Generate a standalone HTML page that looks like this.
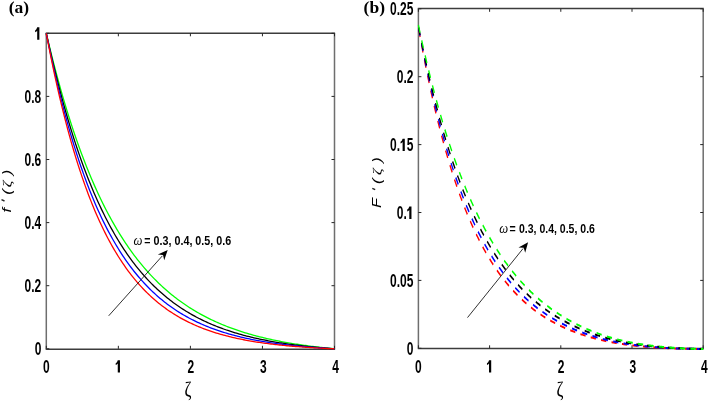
<!DOCTYPE html><html><head><meta charset="utf-8"><style>html,body{margin:0;padding:0;background:#fff;width:708px;height:402px;overflow:hidden}svg{display:block}</style></head><body>
<svg width="708" height="402" viewBox="0 0 708 402">
<rect width="708" height="402" fill="#fff"/>
<g style="opacity:0.999">
<path d="M45.699999999999996 33.3H335.1M45.699999999999996 349.2H335.1" stroke="#3c3c3c" stroke-width="1.45" fill="none"/>
<path d="M46.3 33.3V349.2M334.5 33.3V349.2" stroke="#6e6e6e" stroke-width="1.5" fill="none"/>
<path d="M46.30 348.8v-3M46.30 33.3v3M118.35 348.8v-3M118.35 33.3v3M190.40 348.8v-3M190.40 33.3v3M262.45 348.8v-3M262.45 33.3v3M334.50 348.8v-3M334.50 33.3v3M46.3 348.80h3M334.5 348.80h-3M46.3 285.70h3M334.5 285.70h-3M46.3 222.60h3M334.5 222.60h-3M46.3 159.50h3M334.5 159.50h-3M46.3 96.40h3M334.5 96.40h-3M46.3 33.30h3M334.5 33.30h-3" stroke="#262626" stroke-width="1" fill="none"/>
<text transform="translate(42.96,372.60) scale(0.686,1)" font-size="17.5" font-family="Liberation Sans" font-weight="bold" fill="#000">0</text>
<path d="M117.76 360.15H119.96V372.60H117.76V363.60Q116.81 364.60 115.71 365.10V363.20Q117.21 362.40 117.76 360.15Z" fill="#000"/>
<text transform="translate(187.46,372.60) scale(0.686,1)" font-size="17.5" font-family="Liberation Sans" font-weight="bold" fill="#000">2</text>
<text transform="translate(260.01,372.60) scale(0.686,1)" font-size="17.5" font-family="Liberation Sans" font-weight="bold" fill="#000">3</text>
<text transform="translate(332.36,372.60) scale(0.686,1)" font-size="17.5" font-family="Liberation Sans" font-weight="bold" fill="#000">4</text>
<text transform="translate(34.63,355.30) scale(0.686,1)" font-size="17.5" font-family="Liberation Sans" font-weight="bold" fill="#000">0</text>
<text transform="translate(24.61,292.20) scale(0.686,1)" font-size="17.5" font-family="Liberation Sans" font-weight="bold" fill="#000">0.2</text>
<text transform="translate(24.61,229.10) scale(0.686,1)" font-size="17.5" font-family="Liberation Sans" font-weight="bold" fill="#000">0.4</text>
<text transform="translate(24.61,166.00) scale(0.686,1)" font-size="17.5" font-family="Liberation Sans" font-weight="bold" fill="#000">0.6</text>
<text transform="translate(24.61,102.90) scale(0.686,1)" font-size="17.5" font-family="Liberation Sans" font-weight="bold" fill="#000">0.8</text>
<path d="M37.18 27.35H39.38V39.80H37.18V30.80Q36.23 31.80 35.13 32.30V30.40Q36.63 29.60 37.18 27.35Z" fill="#000"/>
<path d="M417.79999999999995 8.45H703.8000000000001M417.79999999999995 348.45H703.8000000000001" stroke="#3c3c3c" stroke-width="1.45" fill="none"/>
<path d="M418.4 8.45V348.45M703.2 8.45V348.45" stroke="#6e6e6e" stroke-width="1.5" fill="none"/>
<path d="M418.40 348.3v-3M418.40 8.8v3M489.60 348.3v-3M489.60 8.8v3M560.80 348.3v-3M560.80 8.8v3M632.00 348.3v-3M632.00 8.8v3M703.20 348.3v-3M703.20 8.8v3M418.4 348.30h3M703.2 348.30h-3M418.4 280.40h3M703.2 280.40h-3M418.4 212.50h3M703.2 212.50h-3M418.4 144.60h3M703.2 144.60h-3M418.4 76.70h3M703.2 76.70h-3M418.4 8.80h3M703.2 8.80h-3" stroke="#262626" stroke-width="1" fill="none"/>
<text transform="translate(415.06,372.60) scale(0.686,1)" font-size="17.5" font-family="Liberation Sans" font-weight="bold" fill="#000">0</text>
<path d="M489.01 360.15H491.21V372.60H489.01V363.60Q488.06 364.60 486.96 365.10V363.20Q488.46 362.40 489.01 360.15Z" fill="#000"/>
<text transform="translate(557.86,372.60) scale(0.686,1)" font-size="17.5" font-family="Liberation Sans" font-weight="bold" fill="#000">2</text>
<text transform="translate(629.56,372.60) scale(0.686,1)" font-size="17.5" font-family="Liberation Sans" font-weight="bold" fill="#000">3</text>
<text transform="translate(701.06,372.60) scale(0.686,1)" font-size="17.5" font-family="Liberation Sans" font-weight="bold" fill="#000">4</text>
<text transform="translate(406.73,354.80) scale(0.686,1)" font-size="17.5" font-family="Liberation Sans" font-weight="bold" fill="#000">0</text>
<text transform="translate(390.04,286.90) scale(0.686,1)" font-size="17.5" font-family="Liberation Sans" font-weight="bold" fill="#000">0.05</text>
<text transform="translate(396.71,219.00) scale(0.686,1)" font-size="17.5" font-family="Liberation Sans" font-weight="bold" fill="#000">0.</text><path d="M409.28 206.55H411.48V219.00H409.28V210.00Q408.33 211.00 407.23 211.50V209.60Q408.73 208.80 409.28 206.55Z" fill="#000"/>
<text transform="translate(390.04,151.10) scale(0.686,1)" font-size="17.5" font-family="Liberation Sans" font-weight="bold" fill="#000">0.</text><path d="M402.60 138.65H404.80V151.10H402.60V142.10Q401.65 143.10 400.55 143.60V141.70Q402.05 140.90 402.60 138.65Z" fill="#000"/><text transform="translate(406.73,151.10) scale(0.686,1)" font-size="17.5" font-family="Liberation Sans" font-weight="bold" fill="#000">5</text>
<text transform="translate(396.71,83.20) scale(0.686,1)" font-size="17.5" font-family="Liberation Sans" font-weight="bold" fill="#000">0.2</text>
<text transform="translate(390.04,15.30) scale(0.686,1)" font-size="17.5" font-family="Liberation Sans" font-weight="bold" fill="#000">0.25</text>
<polyline points="46.30,33.30 47.74,39.40 49.18,45.39 50.62,51.26 52.06,57.03 53.50,62.68 54.95,68.23 56.39,73.67 57.83,79.01 59.27,84.25 60.71,89.38 62.15,94.43 63.59,99.37 65.03,104.23 66.47,108.99 67.91,113.66 69.36,118.24 70.80,122.74 72.24,127.15 73.68,131.47 75.12,135.72 76.56,139.88 78.00,143.97 79.44,147.98 80.88,151.91 82.32,155.77 83.77,159.56 85.21,163.27 86.65,166.91 88.09,170.49 89.53,174.00 90.97,177.44 92.41,180.81 93.85,184.12 95.29,187.37 96.73,190.56 98.18,193.69 99.62,196.76 101.06,199.77 102.50,202.72 103.94,205.62 105.38,208.46 106.82,211.25 108.26,213.99 109.70,216.67 111.14,219.30 112.59,221.89 114.03,224.42 115.47,226.91 116.91,229.35 118.35,231.74 119.79,234.09 121.23,236.40 122.67,238.66 124.11,240.87 125.56,243.05 127.00,245.18 128.44,247.28 129.88,249.33 131.32,251.35 132.76,253.33 134.20,255.27 135.64,257.17 137.08,259.04 138.52,260.87 139.97,262.67 141.41,264.43 142.85,266.16 144.29,267.86 145.73,269.52 147.17,271.16 148.61,272.76 150.05,274.33 151.49,275.87 152.93,277.39 154.38,278.87 155.82,280.33 157.26,281.76 158.70,283.16 160.14,284.54 161.58,285.88 163.02,287.21 164.46,288.51 165.90,289.78 167.34,291.03 168.78,292.26 170.23,293.46 171.67,294.64 173.11,295.80 174.55,296.94 175.99,298.05 177.43,299.15 178.87,300.22 180.31,301.27 181.75,302.31 183.19,303.32 184.64,304.31 186.08,305.29 187.52,306.25 188.96,307.19 190.40,308.11 191.84,309.01 193.28,309.90 194.72,310.77 196.16,311.62 197.61,312.46 199.05,313.28 200.49,314.08 201.93,314.88 203.37,315.65 204.81,316.41 206.25,317.16 207.69,317.89 209.13,318.61 210.57,319.31 212.01,320.01 213.46,320.68 214.90,321.35 216.34,322.00 217.78,322.64 219.22,323.27 220.66,323.89 222.10,324.49 223.54,325.09 224.98,325.67 226.43,326.24 227.87,326.80 229.31,327.35 230.75,327.89 232.19,328.42 233.63,328.94 235.07,329.45 236.51,329.95 237.95,330.44 239.39,330.92 240.83,331.39 242.28,331.86 243.72,332.31 245.16,332.76 246.60,333.19 248.04,333.62 249.48,334.04 250.92,334.46 252.36,334.86 253.80,335.26 255.25,335.65 256.69,336.03 258.13,336.41 259.57,336.78 261.01,337.14 262.45,337.49 263.89,337.84 265.33,338.18 266.77,338.52 268.21,338.84 269.65,339.17 271.10,339.48 272.54,339.79 273.98,340.10 275.42,340.40 276.86,340.69 278.30,340.98 279.74,341.26 281.18,341.53 282.62,341.80 284.06,342.07 285.51,342.33 286.95,342.59 288.39,342.84 289.83,343.09 291.27,343.33 292.71,343.57 294.15,343.80 295.59,344.03 297.03,344.25 298.47,344.47 299.92,344.69 301.36,344.90 302.80,345.11 304.24,345.31 305.68,345.51 307.12,345.71 308.56,345.90 310.00,346.09 311.44,346.27 312.88,346.45 314.33,346.63 315.77,346.81 317.21,346.98 318.65,347.15 320.09,347.31 321.53,347.47 322.97,347.63 324.41,347.79 325.85,347.94 327.30,348.09 328.74,348.24 330.18,348.38 331.62,348.52 333.06,348.66 334.50,348.80" fill="none" stroke="#00ff00" stroke-width="1.3" stroke-linejoin="round"/>
<polyline points="46.30,33.30 47.74,39.90 49.18,46.36 50.62,52.69 52.06,58.89 53.50,64.96 54.95,70.90 56.39,76.73 57.83,82.43 59.27,88.02 60.71,93.49 62.15,98.85 63.59,104.09 65.03,109.24 66.47,114.27 67.91,119.20 69.36,124.03 70.80,128.76 72.24,133.39 73.68,137.93 75.12,142.37 76.56,146.73 78.00,150.99 79.44,155.16 80.88,159.25 82.32,163.26 83.77,167.18 85.21,171.02 86.65,174.78 88.09,178.47 89.53,182.08 90.97,185.61 92.41,189.08 93.85,192.47 95.29,195.79 96.73,199.04 98.18,202.23 99.62,205.35 101.06,208.40 102.50,211.40 103.94,214.33 105.38,217.20 106.82,220.01 108.26,222.76 109.70,225.46 111.14,228.10 112.59,230.69 114.03,233.23 115.47,235.71 116.91,238.14 118.35,240.52 119.79,242.85 121.23,245.14 122.67,247.37 124.11,249.56 125.56,251.71 127.00,253.81 128.44,255.87 129.88,257.88 131.32,259.86 132.76,261.79 134.20,263.69 135.64,265.54 137.08,267.36 138.52,269.14 139.97,270.88 141.41,272.59 142.85,274.26 144.29,275.90 145.73,277.50 147.17,279.07 148.61,280.61 150.05,282.12 151.49,283.59 152.93,285.04 154.38,286.45 155.82,287.84 157.26,289.20 158.70,290.53 160.14,291.83 161.58,293.11 163.02,294.36 164.46,295.58 165.90,296.78 167.34,297.95 168.78,299.10 170.23,300.23 171.67,301.33 173.11,302.41 174.55,303.47 175.99,304.50 177.43,305.52 178.87,306.51 180.31,307.49 181.75,308.44 183.19,309.37 184.64,310.29 186.08,311.18 187.52,312.06 188.96,312.92 190.40,313.76 191.84,314.59 193.28,315.39 194.72,316.18 196.16,316.96 197.61,317.72 199.05,318.46 200.49,319.19 201.93,319.90 203.37,320.60 204.81,321.28 206.25,321.95 207.69,322.61 209.13,323.25 210.57,323.88 212.01,324.49 213.46,325.10 214.90,325.69 216.34,326.27 217.78,326.83 219.22,327.39 220.66,327.93 222.10,328.46 223.54,328.99 224.98,329.50 226.43,330.00 227.87,330.49 229.31,330.97 230.75,331.44 232.19,331.90 233.63,332.35 235.07,332.79 236.51,333.22 237.95,333.65 239.39,334.06 240.83,334.47 242.28,334.87 243.72,335.26 245.16,335.64 246.60,336.01 248.04,336.38 249.48,336.74 250.92,337.09 252.36,337.43 253.80,337.77 255.25,338.10 256.69,338.42 258.13,338.74 259.57,339.05 261.01,339.35 262.45,339.65 263.89,339.94 265.33,340.23 266.77,340.51 268.21,340.78 269.65,341.05 271.10,341.31 272.54,341.57 273.98,341.82 275.42,342.07 276.86,342.31 278.30,342.54 279.74,342.78 281.18,343.00 282.62,343.23 284.06,343.44 285.51,343.66 286.95,343.87 288.39,344.07 289.83,344.27 291.27,344.47 292.71,344.66 294.15,344.85 295.59,345.03 297.03,345.21 298.47,345.39 299.92,345.56 301.36,345.73 302.80,345.90 304.24,346.06 305.68,346.22 307.12,346.38 308.56,346.53 310.00,346.68 311.44,346.82 312.88,346.97 314.33,347.11 315.77,347.25 317.21,347.38 318.65,347.51 320.09,347.64 321.53,347.77 322.97,347.89 324.41,348.02 325.85,348.14 327.30,348.25 328.74,348.37 330.18,348.48 331.62,348.59 333.06,348.69 334.50,348.80" fill="none" stroke="#000000" stroke-width="1.3" stroke-linejoin="round"/>
<polyline points="46.30,33.30 47.74,40.40 49.18,47.34 50.62,54.12 52.06,60.76 53.50,67.25 54.95,73.59 56.39,79.79 57.83,85.86 59.27,91.79 60.71,97.58 62.15,103.25 63.59,108.79 65.03,114.21 66.47,119.51 67.91,124.69 69.36,129.75 70.80,134.71 72.24,139.55 73.68,144.28 75.12,148.91 76.56,153.44 78.00,157.86 79.44,162.19 80.88,166.42 82.32,170.56 83.77,174.60 85.21,178.56 86.65,182.42 88.09,186.20 89.53,189.90 90.97,193.51 92.41,197.05 93.85,200.50 95.29,203.88 96.73,207.19 98.18,210.41 99.62,213.57 101.06,216.66 102.50,219.68 103.94,222.63 105.38,225.52 106.82,228.34 108.26,231.10 109.70,233.79 111.14,236.43 112.59,239.01 114.03,241.53 115.47,244.00 116.91,246.41 118.35,248.77 119.79,251.07 121.23,253.32 122.67,255.53 124.11,257.68 125.56,259.79 127.00,261.85 128.44,263.86 129.88,265.83 131.32,267.75 132.76,269.64 134.20,271.48 135.64,273.27 137.08,275.03 138.52,276.75 139.97,278.44 141.41,280.08 142.85,281.69 144.29,283.26 145.73,284.80 147.17,286.30 148.61,287.77 150.05,289.21 151.49,290.61 152.93,291.98 154.38,293.33 155.82,294.64 157.26,295.92 158.70,297.18 160.14,298.41 161.58,299.61 163.02,300.78 164.46,301.93 165.90,303.05 167.34,304.15 168.78,305.22 170.23,306.27 171.67,307.29 173.11,308.29 174.55,309.27 175.99,310.23 177.43,311.17 178.87,312.09 180.31,312.98 181.75,313.86 183.19,314.71 184.64,315.55 186.08,316.37 187.52,317.17 188.96,317.95 190.40,318.72 191.84,319.47 193.28,320.20 194.72,320.91 196.16,321.61 197.61,322.30 199.05,322.96 200.49,323.62 201.93,324.26 203.37,324.88 204.81,325.49 206.25,326.09 207.69,326.67 209.13,327.25 210.57,327.80 212.01,328.35 213.46,328.88 214.90,329.41 216.34,329.92 217.78,330.41 219.22,330.90 220.66,331.38 222.10,331.85 223.54,332.30 224.98,332.75 226.43,333.18 227.87,333.61 229.31,334.03 230.75,334.43 232.19,334.83 233.63,335.22 235.07,335.60 236.51,335.98 237.95,336.34 239.39,336.70 240.83,337.04 242.28,337.39 243.72,337.72 245.16,338.04 246.60,338.36 248.04,338.67 249.48,338.98 250.92,339.27 252.36,339.56 253.80,339.85 255.25,340.13 256.69,340.40 258.13,340.66 259.57,340.92 261.01,341.18 262.45,341.43 263.89,341.67 265.33,341.91 266.77,342.14 268.21,342.37 269.65,342.59 271.10,342.81 272.54,343.02 273.98,343.23 275.42,343.43 276.86,343.63 278.30,343.82 279.74,344.01 281.18,344.20 282.62,344.38 284.06,344.55 285.51,344.73 286.95,344.90 288.39,345.06 289.83,345.22 291.27,345.38 292.71,345.54 294.15,345.69 295.59,345.84 297.03,345.98 298.47,346.12 299.92,346.26 301.36,346.40 302.80,346.53 304.24,346.66 305.68,346.79 307.12,346.91 308.56,347.03 310.00,347.15 311.44,347.26 312.88,347.38 314.33,347.49 315.77,347.60 317.21,347.70 318.65,347.80 320.09,347.91 321.53,348.00 322.97,348.10 324.41,348.20 325.85,348.29 327.30,348.38 328.74,348.47 330.18,348.55 331.62,348.64 333.06,348.72 334.50,348.80" fill="none" stroke="#0000ff" stroke-width="1.3" stroke-linejoin="round"/>
<polyline points="46.30,33.30 47.74,40.90 49.18,48.33 50.62,55.57 52.06,62.64 53.50,69.54 54.95,76.28 56.39,82.86 57.83,89.27 59.27,95.54 60.71,101.66 62.15,107.62 63.59,113.45 65.03,119.14 66.47,124.69 67.91,130.11 69.36,135.40 70.80,140.56 72.24,145.60 73.68,150.52 75.12,155.32 76.56,160.00 78.00,164.58 79.44,169.04 80.88,173.40 82.32,177.65 83.77,181.81 85.21,185.86 86.65,189.82 88.09,193.68 89.53,197.45 90.97,201.13 92.41,204.72 93.85,208.22 95.29,211.64 96.73,214.98 98.18,218.24 99.62,221.42 101.06,224.53 102.50,227.56 103.94,230.52 105.38,233.41 106.82,236.23 108.26,238.98 109.70,241.66 111.14,244.29 112.59,246.84 114.03,249.34 115.47,251.78 116.91,254.16 118.35,256.48 119.79,258.75 121.23,260.96 122.67,263.12 124.11,265.23 125.56,267.29 127.00,269.30 128.44,271.26 129.88,273.17 131.32,275.04 132.76,276.87 134.20,278.65 135.64,280.38 137.08,282.08 138.52,283.74 139.97,285.35 141.41,286.93 142.85,288.47 144.29,289.97 145.73,291.44 147.17,292.87 148.61,294.27 150.05,295.63 151.49,296.96 152.93,298.26 154.38,299.53 155.82,300.77 157.26,301.98 158.70,303.16 160.14,304.31 161.58,305.43 163.02,306.53 164.46,307.60 165.90,308.64 167.34,309.66 168.78,310.66 170.23,311.63 171.67,312.58 173.11,313.51 174.55,314.41 175.99,315.29 177.43,316.15 178.87,317.00 180.31,317.82 181.75,318.62 183.19,319.40 184.64,320.16 186.08,320.91 187.52,321.63 188.96,322.34 190.40,323.04 191.84,323.71 193.28,324.37 194.72,325.02 196.16,325.65 197.61,326.26 199.05,326.86 200.49,327.44 201.93,328.01 203.37,328.57 204.81,329.11 206.25,329.65 207.69,330.16 209.13,330.67 210.57,331.16 212.01,331.64 213.46,332.11 214.90,332.57 216.34,333.02 217.78,333.46 219.22,333.89 220.66,334.30 222.10,334.71 223.54,335.11 224.98,335.49 226.43,335.87 227.87,336.24 229.31,336.60 230.75,336.95 232.19,337.30 233.63,337.63 235.07,337.96 236.51,338.28 237.95,338.59 239.39,338.89 240.83,339.19 242.28,339.48 243.72,339.76 245.16,340.04 246.60,340.31 248.04,340.57 249.48,340.83 250.92,341.08 252.36,341.33 253.80,341.56 255.25,341.80 256.69,342.02 258.13,342.25 259.57,342.46 261.01,342.68 262.45,342.88 263.89,343.08 265.33,343.28 266.77,343.47 268.21,343.66 269.65,343.84 271.10,344.02 272.54,344.20 273.98,344.37 275.42,344.53 276.86,344.69 278.30,344.85 279.74,345.01 281.18,345.16 282.62,345.31 284.06,345.45 285.51,345.59 286.95,345.73 288.39,345.86 289.83,345.99 291.27,346.12 292.71,346.24 294.15,346.36 295.59,346.48 297.03,346.60 298.47,346.71 299.92,346.82 301.36,346.93 302.80,347.03 304.24,347.13 305.68,347.23 307.12,347.33 308.56,347.43 310.00,347.52 311.44,347.61 312.88,347.70 314.33,347.79 315.77,347.87 317.21,347.95 318.65,348.03 320.09,348.11 321.53,348.19 322.97,348.26 324.41,348.34 325.85,348.41 327.30,348.48 328.74,348.54 330.18,348.61 331.62,348.68 333.06,348.74 334.50,348.80" fill="none" stroke="#ff0000" stroke-width="1.3" stroke-linejoin="round"/>
<polyline transform="translate(418.4,0) scale(0.657,1)" points="0.00,27.41 1.08,31.44 2.17,35.41 3.25,39.34 4.33,43.21 5.42,47.04 6.50,50.82 7.59,54.56 8.67,58.24 9.75,61.88 10.84,65.48 11.92,69.03 13.00,72.53 14.09,76.00 15.17,79.42 16.26,82.79 17.34,86.13 18.42,89.42 19.51,92.67 20.59,95.89 21.67,99.06 22.76,102.19 23.84,105.29 24.93,108.34 26.01,111.36 27.09,114.34 28.18,117.28 29.26,120.19 30.34,123.06 31.43,125.90 32.51,128.70 33.60,131.46 34.68,134.19 35.76,136.89 36.85,139.55 37.93,142.19 39.01,144.78 40.10,147.35 41.18,149.88 42.26,152.39 43.35,154.86 44.43,157.30 45.52,159.71 46.60,162.10 47.68,164.45 48.77,166.77 49.85,169.07 50.93,171.33 52.02,173.57 53.10,175.78 54.19,177.97 55.27,180.12 56.35,182.25 57.44,184.36 58.52,186.44 59.60,188.49 60.69,190.52 61.77,192.52 62.86,194.50 63.94,196.45 65.02,198.38 66.11,200.28 67.19,202.17 68.27,204.02 69.36,205.86 70.44,207.67 71.53,209.46 72.61,211.23 73.69,212.98 74.78,214.71 75.86,216.41 76.94,218.10 78.03,219.76 79.11,221.40 80.19,223.02 81.28,224.63 82.36,226.21 83.45,227.77 84.53,229.32 85.61,230.84 86.70,232.35 87.78,233.84 88.86,235.31 89.95,236.76 91.03,238.19 92.12,239.61 93.20,241.01 94.28,242.39 95.37,243.76 96.45,245.10 97.53,246.44 98.62,247.75 99.70,249.05 100.79,250.33 101.87,251.60 102.95,252.85 104.04,254.09 105.12,255.31 106.20,256.52 107.29,257.71 108.37,258.89 109.46,260.05 110.54,261.20 111.62,262.33 112.71,263.45 113.79,264.56 114.87,265.65 115.96,266.73 117.04,267.80 118.12,268.85 119.21,269.90 120.29,270.92 121.38,271.94 122.46,272.94 123.54,273.93 124.63,274.91 125.71,275.88 126.79,276.83 127.88,277.77 128.96,278.71 130.05,279.63 131.13,280.53 132.21,281.43 133.30,282.32 134.38,283.19 135.46,284.06 136.55,284.91 137.63,285.76 138.72,286.59 139.80,287.41 140.88,288.23 141.97,289.03 143.05,289.82 144.13,290.61 145.22,291.38 146.30,292.14 147.39,292.90 148.47,293.65 149.55,294.38 150.64,295.11 151.72,295.83 152.80,296.54 153.89,297.24 154.97,297.93 156.05,298.61 157.14,299.29 158.22,299.96 159.31,300.62 160.39,301.27 161.47,301.91 162.56,302.54 163.64,303.17 164.72,303.79 165.81,304.40 166.89,305.01 167.98,305.60 169.06,306.19 170.14,306.77 171.23,307.35 172.31,307.92 173.39,308.48 174.48,309.03 175.56,309.58 176.65,310.12 177.73,310.65 178.81,311.18 179.90,311.70 180.98,312.21 182.06,312.72 183.15,313.22 184.23,313.71 185.32,314.20 186.40,314.69 187.48,315.16 188.57,315.63 189.65,316.10 190.73,316.56 191.82,317.01 192.90,317.46 193.98,317.90 195.07,318.34 196.15,318.77 197.24,319.19 198.32,319.61 199.40,320.03 200.49,320.44 201.57,320.84 202.65,321.24 203.74,321.64 204.82,322.03 205.91,322.41 206.99,322.79 208.07,323.17 209.16,323.54 210.24,323.90 211.32,324.26 212.41,324.62 213.49,324.97 214.58,325.32 215.66,325.66 216.74,326.00 217.83,326.35 218.91,326.68 219.99,327.02 221.08,327.35 222.16,327.68 223.25,328.00 224.33,328.32 225.41,328.63 226.50,328.94 227.58,329.25 228.66,329.55 229.75,329.85 230.83,330.15 231.91,330.44 233.00,330.73 234.08,331.01 235.17,331.29 236.25,331.57 237.33,331.84 238.42,332.11 239.50,332.38 240.58,332.65 241.67,332.91 242.75,333.16 243.84,333.42 244.92,333.67 246.00,333.92 247.09,334.16 248.17,334.40 249.25,334.64 250.34,334.88 251.42,335.11 252.51,335.34 253.59,335.56 254.67,335.79 255.76,336.01 256.84,336.23 257.92,336.44 259.01,336.65 260.09,336.86 261.18,337.07 262.26,337.28 263.34,337.48 264.43,337.68 265.51,337.87 266.59,338.07 267.68,338.26 268.76,338.45 269.84,338.63 270.93,338.82 272.01,339.00 273.10,339.18 274.18,339.36 275.26,339.53 276.35,339.71 277.43,339.88 278.51,340.04 279.60,340.21 280.68,340.37 281.77,340.54 282.85,340.69 283.93,340.85 285.02,341.01 286.10,341.16 287.18,341.31 288.27,341.46 289.35,341.61 290.44,341.75 291.52,341.90 292.60,342.04 293.69,342.18 294.77,342.32 295.85,342.45 296.94,342.59 298.02,342.72 299.11,342.85 300.19,342.98 301.27,343.10 302.36,343.23 303.44,343.35 304.52,343.47 305.61,343.58 306.69,343.69 307.77,343.80 308.86,343.90 309.94,344.01 311.03,344.11 312.11,344.21 313.19,344.31 314.28,344.41 315.36,344.51 316.44,344.61 317.53,344.70 318.61,344.79 319.70,344.88 320.78,344.97 321.86,345.06 322.95,345.15 324.03,345.24 325.11,345.32 326.20,345.40 327.28,345.49 328.37,345.57 329.45,345.65 330.53,345.72 331.62,345.80 332.70,345.88 333.78,345.95 334.87,346.02 335.95,346.10 337.04,346.17 338.12,346.24 339.20,346.30 340.29,346.37 341.37,346.44 342.45,346.50 343.54,346.57 344.62,346.63 345.70,346.69 346.79,346.75 347.87,346.81 348.96,346.87 350.04,346.93 351.12,346.98 352.21,347.04 353.29,347.09 354.37,347.15 355.46,347.20 356.54,347.25 357.63,347.30 358.71,347.35 359.79,347.40 360.88,347.45 361.96,347.49 363.04,347.54 364.13,347.58 365.21,347.63 366.30,347.67 367.38,347.71 368.46,347.76 369.55,347.80 370.63,347.84 371.71,347.88 372.80,347.91 373.88,347.95 374.96,347.99 376.05,348.02 377.13,348.06 378.22,348.09 379.30,348.13 380.38,348.16 381.47,348.19 382.55,348.22 383.63,348.25 384.72,348.28 385.80,348.31 386.89,348.34 387.97,348.37 389.05,348.40 390.14,348.42 391.22,348.45 392.30,348.47 393.39,348.50 394.47,348.52 395.56,348.54 396.64,348.57 397.72,348.59 398.81,348.61 399.89,348.63 400.97,348.65 402.06,348.67 403.14,348.69 404.23,348.71 405.31,348.72 406.39,348.74 407.48,348.76 408.56,348.77 409.64,348.79 410.73,348.80 411.81,348.82 412.89,348.83 413.98,348.85 415.06,348.86 416.15,348.87 417.23,348.88 418.31,348.89 419.40,348.90 420.48,348.91 421.56,348.92 422.65,348.93 423.73,348.94 424.82,348.95 425.90,348.96 426.98,348.97 428.07,348.97 429.15,348.98 430.23,348.98 431.32,348.99 432.40,349.00 433.49,349.00" fill="none" stroke="#ff0000" stroke-width="2.0" stroke-dasharray="8 8" stroke-dashoffset="-2.0" />
<polyline transform="translate(418.4,0) scale(0.657,1)" points="0.00,26.79 1.08,30.63 2.17,34.42 3.25,38.17 4.33,41.87 5.42,45.53 6.50,49.14 7.59,52.71 8.67,56.24 9.75,59.73 10.84,63.17 11.92,66.58 13.00,69.94 14.09,73.26 15.17,76.55 16.26,79.79 17.34,83.00 18.42,86.17 19.51,89.30 20.59,92.39 21.67,95.45 22.76,98.47 23.84,101.45 24.93,104.40 26.01,107.32 27.09,110.20 28.18,113.04 29.26,115.86 30.34,118.63 31.43,121.38 32.51,124.09 33.60,126.78 34.68,129.43 35.76,132.05 36.85,134.63 37.93,137.19 39.01,139.72 40.10,142.22 41.18,144.68 42.26,147.12 43.35,149.53 44.43,151.92 45.52,154.27 46.60,156.60 47.68,158.90 48.77,161.17 49.85,163.41 50.93,165.63 52.02,167.83 53.10,170.00 54.19,172.14 55.27,174.26 56.35,176.35 57.44,178.42 58.52,180.46 59.60,182.48 60.69,184.48 61.77,186.45 62.86,188.40 63.94,190.33 65.02,192.23 66.11,194.11 67.19,195.97 68.27,197.81 69.36,199.63 70.44,201.43 71.53,203.20 72.61,204.96 73.69,206.69 74.78,208.41 75.86,210.10 76.94,211.78 78.03,213.43 79.11,215.07 80.19,216.68 81.28,218.28 82.36,219.86 83.45,221.42 84.53,222.97 85.61,224.49 86.70,226.00 87.78,227.49 88.86,228.96 89.95,230.42 91.03,231.86 92.12,233.28 93.20,234.68 94.28,236.07 95.37,237.45 96.45,238.80 97.53,240.15 98.62,241.47 99.70,242.78 100.79,244.08 101.87,245.36 102.95,246.63 104.04,247.88 105.12,249.11 106.20,250.34 107.29,251.54 108.37,252.74 109.46,253.92 110.54,255.09 111.62,256.24 112.71,257.38 113.79,258.51 114.87,259.62 115.96,260.72 117.04,261.81 118.12,262.89 119.21,263.95 120.29,265.00 121.38,266.04 122.46,267.07 123.54,268.09 124.63,269.09 125.71,270.08 126.79,271.06 127.88,272.03 128.96,272.99 130.05,273.94 131.13,274.87 132.21,275.80 133.30,276.71 134.38,277.62 135.46,278.51 136.55,279.39 137.63,280.27 138.72,281.13 139.80,281.98 140.88,282.83 141.97,283.66 143.05,284.49 144.13,285.30 145.22,286.10 146.30,286.90 147.39,287.69 148.47,288.46 149.55,289.23 150.64,289.99 151.72,290.74 152.80,291.49 153.89,292.22 154.97,292.95 156.05,293.66 157.14,294.37 158.22,295.07 159.31,295.76 160.39,296.45 161.47,297.12 162.56,297.79 163.64,298.45 164.72,299.11 165.81,299.75 166.89,300.39 167.98,301.02 169.06,301.64 170.14,302.26 171.23,302.87 172.31,303.47 173.39,304.07 174.48,304.65 175.56,305.24 176.65,305.81 177.73,306.38 178.81,306.94 179.90,307.49 180.98,308.04 182.06,308.58 183.15,309.12 184.23,309.65 185.32,310.17 186.40,310.69 187.48,311.20 188.57,311.70 189.65,312.20 190.73,312.70 191.82,313.18 192.90,313.67 193.98,314.14 195.07,314.61 196.15,315.08 197.24,315.54 198.32,315.99 199.40,316.44 200.49,316.88 201.57,317.32 202.65,317.75 203.74,318.18 204.82,318.61 205.91,319.02 206.99,319.44 208.07,319.84 209.16,320.25 210.24,320.65 211.32,321.04 212.41,321.43 213.49,321.81 214.58,322.19 215.66,322.57 216.74,322.94 217.83,323.32 218.91,323.69 219.99,324.05 221.08,324.42 222.16,324.77 223.25,325.13 224.33,325.48 225.41,325.82 226.50,326.16 227.58,326.50 228.66,326.84 229.75,327.16 230.83,327.49 231.91,327.81 233.00,328.13 234.08,328.45 235.17,328.76 236.25,329.06 237.33,329.37 238.42,329.67 239.50,329.96 240.58,330.26 241.67,330.55 242.75,330.83 243.84,331.11 244.92,331.39 246.00,331.67 247.09,331.94 248.17,332.21 249.25,332.48 250.34,332.74 251.42,333.00 252.51,333.26 253.59,333.51 254.67,333.76 255.76,334.01 256.84,334.25 257.92,334.49 259.01,334.73 260.09,334.97 261.18,335.20 262.26,335.43 263.34,335.66 264.43,335.88 265.51,336.10 266.59,336.32 267.68,336.54 268.76,336.75 269.84,336.96 270.93,337.17 272.01,337.38 273.10,337.58 274.18,337.78 275.26,337.98 276.35,338.17 277.43,338.37 278.51,338.56 279.60,338.75 280.68,338.93 281.77,339.12 282.85,339.30 283.93,339.48 285.02,339.66 286.10,339.83 287.18,340.00 288.27,340.17 289.35,340.34 290.44,340.51 291.52,340.67 292.60,340.83 293.69,340.99 294.77,341.15 295.85,341.31 296.94,341.46 298.02,341.61 299.11,341.76 300.19,341.91 301.27,342.06 302.36,342.20 303.44,342.34 304.52,342.47 305.61,342.60 306.69,342.73 307.77,342.86 308.86,342.98 309.94,343.10 311.03,343.22 312.11,343.34 313.19,343.46 314.28,343.58 315.36,343.69 316.44,343.80 317.53,343.91 318.61,344.02 319.70,344.13 320.78,344.23 321.86,344.34 322.95,344.44 324.03,344.54 325.11,344.64 326.20,344.74 327.28,344.84 328.37,344.93 329.45,345.02 330.53,345.12 331.62,345.21 332.70,345.30 333.78,345.38 334.87,345.47 335.95,345.55 337.04,345.64 338.12,345.72 339.20,345.80 340.29,345.88 341.37,345.96 342.45,346.04 343.54,346.11 344.62,346.19 345.70,346.26 346.79,346.33 347.87,346.40 348.96,346.47 350.04,346.54 351.12,346.61 352.21,346.67 353.29,346.74 354.37,346.80 355.46,346.86 356.54,346.93 357.63,346.99 358.71,347.05 359.79,347.10 360.88,347.16 361.96,347.22 363.04,347.27 364.13,347.32 365.21,347.38 366.30,347.43 367.38,347.48 368.46,347.53 369.55,347.58 370.63,347.63 371.71,347.67 372.80,347.72 373.88,347.76 374.96,347.81 376.05,347.85 377.13,347.89 378.22,347.93 379.30,347.97 380.38,348.01 381.47,348.05 382.55,348.09 383.63,348.12 384.72,348.16 385.80,348.19 386.89,348.23 387.97,348.26 389.05,348.29 390.14,348.33 391.22,348.36 392.30,348.39 393.39,348.42 394.47,348.44 395.56,348.47 396.64,348.50 397.72,348.52 398.81,348.55 399.89,348.57 400.97,348.60 402.06,348.62 403.14,348.64 404.23,348.66 405.31,348.69 406.39,348.71 407.48,348.72 408.56,348.74 409.64,348.76 410.73,348.78 411.81,348.80 412.89,348.81 413.98,348.83 415.06,348.84 416.15,348.86 417.23,348.87 418.31,348.88 419.40,348.89 420.48,348.91 421.56,348.92 422.65,348.93 423.73,348.94 424.82,348.95 425.90,348.96 426.98,348.96 428.07,348.97 429.15,348.98 430.23,348.98 431.32,348.99 432.40,349.00 433.49,349.00" fill="none" stroke="#0000ff" stroke-width="2.0" stroke-dasharray="8 8" stroke-dashoffset="-1.3" />
<polyline transform="translate(418.4,0) scale(0.657,1)" points="0.00,26.66 1.08,30.26 2.17,33.83 3.25,37.36 4.33,40.84 5.42,44.29 6.50,47.70 7.59,51.07 8.67,54.40 9.75,57.70 10.84,60.96 11.92,64.18 13.00,67.37 14.09,70.52 15.17,73.63 16.26,76.71 17.34,79.76 18.42,82.77 19.51,85.75 20.59,88.70 21.67,91.61 22.76,94.50 23.84,97.35 24.93,100.16 26.01,102.95 27.09,105.71 28.18,108.43 29.26,111.13 30.34,113.79 31.43,116.43 32.51,119.04 33.60,121.61 34.68,124.16 35.76,126.69 36.85,129.18 37.93,131.65 39.01,134.09 40.10,136.50 41.18,138.88 42.26,141.24 43.35,143.58 44.43,145.89 45.52,148.17 46.60,150.43 47.68,152.66 48.77,154.87 49.85,157.05 50.93,159.21 52.02,161.35 53.10,163.46 54.19,165.55 55.27,167.62 56.35,169.67 57.44,171.69 58.52,173.69 59.60,175.67 60.69,177.62 61.77,179.56 62.86,181.47 63.94,183.37 65.02,185.24 66.11,187.09 67.19,188.93 68.27,190.74 69.36,192.53 70.44,194.31 71.53,196.06 72.61,197.79 73.69,199.51 74.78,201.21 75.86,202.89 76.94,204.55 78.03,206.19 79.11,207.82 80.19,209.42 81.28,211.01 82.36,212.59 83.45,214.14 84.53,215.68 85.61,217.20 86.70,218.71 87.78,220.20 88.86,221.67 89.95,223.13 91.03,224.57 92.12,226.00 93.20,227.41 94.28,228.80 95.37,230.18 96.45,231.55 97.53,232.90 98.62,234.24 99.70,235.56 100.79,236.87 101.87,238.16 102.95,239.44 104.04,240.70 105.12,241.96 106.20,243.19 107.29,244.42 108.37,245.63 109.46,246.83 110.54,248.02 111.62,249.19 112.71,250.35 113.79,251.50 114.87,252.63 115.96,253.76 117.04,254.87 118.12,255.97 119.21,257.06 120.29,258.13 121.38,259.20 122.46,260.25 123.54,261.29 124.63,262.32 125.71,263.34 126.79,264.35 127.88,265.34 128.96,266.33 130.05,267.31 131.13,268.27 132.21,269.23 133.30,270.17 134.38,271.11 135.46,272.03 136.55,272.95 137.63,273.85 138.72,274.75 139.80,275.63 140.88,276.51 141.97,277.37 143.05,278.23 144.13,279.08 145.22,279.92 146.30,280.75 147.39,281.57 148.47,282.38 149.55,283.18 150.64,283.98 151.72,284.76 152.80,285.54 153.89,286.31 154.97,287.07 156.05,287.82 157.14,288.57 158.22,289.30 159.31,290.03 160.39,290.75 161.47,291.46 162.56,292.17 163.64,292.87 164.72,293.56 165.81,294.24 166.89,294.91 167.98,295.58 169.06,296.24 170.14,296.89 171.23,297.54 172.31,298.18 173.39,298.81 174.48,299.44 175.56,300.05 176.65,300.67 177.73,301.27 178.81,301.87 179.90,302.46 180.98,303.05 182.06,303.63 183.15,304.20 184.23,304.76 185.32,305.33 186.40,305.88 187.48,306.43 188.57,306.97 189.65,307.51 190.73,308.04 191.82,308.56 192.90,309.08 193.98,309.59 195.07,310.10 196.15,310.60 197.24,311.10 198.32,311.59 199.40,312.07 200.49,312.55 201.57,313.03 202.65,313.50 203.74,313.96 204.82,314.42 205.91,314.88 206.99,315.32 208.07,315.77 209.16,316.21 210.24,316.64 211.32,317.07 212.41,317.50 213.49,317.92 214.58,318.33 215.66,318.74 216.74,319.15 217.83,319.56 218.91,319.96 219.99,320.36 221.08,320.76 222.16,321.15 223.25,321.54 224.33,321.93 225.41,322.31 226.50,322.68 227.58,323.05 228.66,323.42 229.75,323.78 230.83,324.14 231.91,324.50 233.00,324.85 234.08,325.19 235.17,325.54 236.25,325.88 237.33,326.21 238.42,326.55 239.50,326.87 240.58,327.20 241.67,327.52 242.75,327.84 243.84,328.15 244.92,328.46 246.00,328.77 247.09,329.07 248.17,329.37 249.25,329.67 250.34,329.96 251.42,330.25 252.51,330.54 253.59,330.82 254.67,331.10 255.76,331.38 256.84,331.65 257.92,331.92 259.01,332.19 260.09,332.45 261.18,332.71 262.26,332.97 263.34,333.23 264.43,333.48 265.51,333.73 266.59,333.97 267.68,334.22 268.76,334.46 269.84,334.70 270.93,334.93 272.01,335.17 273.10,335.39 274.18,335.62 275.26,335.85 276.35,336.07 277.43,336.29 278.51,336.50 279.60,336.72 280.68,336.93 281.77,337.14 282.85,337.34 283.93,337.55 285.02,337.75 286.10,337.95 287.18,338.15 288.27,338.34 289.35,338.53 290.44,338.72 291.52,338.91 292.60,339.09 293.69,339.28 294.77,339.46 295.85,339.64 296.94,339.81 298.02,339.99 299.11,340.16 300.19,340.33 301.27,340.49 302.36,340.66 303.44,340.82 304.52,340.98 305.61,341.13 306.69,341.28 307.77,341.42 308.86,341.57 309.94,341.71 311.03,341.85 312.11,341.99 313.19,342.13 314.28,342.26 315.36,342.39 316.44,342.53 317.53,342.66 318.61,342.78 319.70,342.91 320.78,343.03 321.86,343.16 322.95,343.28 324.03,343.40 325.11,343.51 326.20,343.63 327.28,343.74 328.37,343.86 329.45,343.97 330.53,344.08 331.62,344.18 332.70,344.29 333.78,344.39 334.87,344.50 335.95,344.60 337.04,344.70 338.12,344.80 339.20,344.89 340.29,344.99 341.37,345.08 342.45,345.17 343.54,345.27 344.62,345.36 345.70,345.44 346.79,345.53 347.87,345.62 348.96,345.70 350.04,345.78 351.12,345.86 352.21,345.94 353.29,346.02 354.37,346.10 355.46,346.18 356.54,346.25 357.63,346.32 358.71,346.40 359.79,346.47 360.88,346.54 361.96,346.61 363.04,346.67 364.13,346.74 365.21,346.81 366.30,346.87 367.38,346.93 368.46,346.99 369.55,347.05 370.63,347.11 371.71,347.17 372.80,347.23 373.88,347.29 374.96,347.34 376.05,347.40 377.13,347.45 378.22,347.50 379.30,347.55 380.38,347.60 381.47,347.65 382.55,347.70 383.63,347.74 384.72,347.79 385.80,347.84 386.89,347.88 387.97,347.92 389.05,347.97 390.14,348.01 391.22,348.05 392.30,348.09 393.39,348.12 394.47,348.16 395.56,348.20 396.64,348.23 397.72,348.27 398.81,348.30 399.89,348.34 400.97,348.37 402.06,348.40 403.14,348.43 404.23,348.46 405.31,348.49 406.39,348.52 407.48,348.55 408.56,348.57 409.64,348.60 410.73,348.63 411.81,348.65 412.89,348.68 413.98,348.70 415.06,348.72 416.15,348.74 417.23,348.76 418.31,348.78 419.40,348.80 420.48,348.82 421.56,348.84 422.65,348.86 423.73,348.88 424.82,348.89 425.90,348.91 426.98,348.92 428.07,348.94 429.15,348.95 430.23,348.96 431.32,348.98 432.40,348.99 433.49,349.00" fill="none" stroke="#000000" stroke-width="2.0" stroke-dasharray="8 8" stroke-dashoffset="-0.7" />
<polyline transform="translate(418.4,0) scale(0.657,1)" points="0.00,25.11 1.08,28.47 2.17,31.79 3.25,35.08 4.33,38.33 5.42,41.55 6.50,44.74 7.59,47.90 8.67,51.02 9.75,54.12 10.84,57.18 11.92,60.21 13.00,63.21 14.09,66.18 15.17,69.12 16.26,72.03 17.34,74.91 18.42,77.77 19.51,80.59 20.59,83.38 21.67,86.15 22.76,88.89 23.84,91.60 24.93,94.29 26.01,96.95 27.09,99.58 28.18,102.18 29.26,104.76 30.34,107.31 31.43,109.84 32.51,112.34 33.60,114.82 34.68,117.27 35.76,119.70 36.85,122.10 37.93,124.48 39.01,126.83 40.10,129.16 41.18,131.47 42.26,133.76 43.35,136.02 44.43,138.26 45.52,140.47 46.60,142.67 47.68,144.84 48.77,146.99 49.85,149.12 50.93,151.23 52.02,153.32 53.10,155.39 54.19,157.43 55.27,159.46 56.35,161.46 57.44,163.45 58.52,165.41 59.60,167.36 60.69,169.29 61.77,171.19 62.86,173.08 63.94,174.95 65.02,176.80 66.11,178.63 67.19,180.45 68.27,182.25 69.36,184.02 70.44,185.78 71.53,187.53 72.61,189.25 73.69,190.96 74.78,192.65 75.86,194.33 76.94,195.99 78.03,197.63 79.11,199.25 80.19,200.86 81.28,202.45 82.36,204.03 83.45,205.59 84.53,207.14 85.61,208.67 86.70,210.19 87.78,211.69 88.86,213.17 89.95,214.64 91.03,216.10 92.12,217.54 93.20,218.97 94.28,220.38 95.37,221.78 96.45,223.16 97.53,224.53 98.62,225.89 99.70,227.24 100.79,228.57 101.87,229.88 102.95,231.19 104.04,232.48 105.12,233.76 106.20,235.02 107.29,236.28 108.37,237.52 109.46,238.75 110.54,239.96 111.62,241.17 112.71,242.36 113.79,243.54 114.87,244.71 115.96,245.87 117.04,247.01 118.12,248.15 119.21,249.27 120.29,250.38 121.38,251.48 122.46,252.57 123.54,253.65 124.63,254.72 125.71,255.77 126.79,256.82 127.88,257.86 128.96,258.88 130.05,259.90 131.13,260.90 132.21,261.90 133.30,262.88 134.38,263.86 135.46,264.82 136.55,265.78 137.63,266.73 138.72,267.66 139.80,268.59 140.88,269.51 141.97,270.42 143.05,271.32 144.13,272.21 145.22,273.09 146.30,273.97 147.39,274.83 148.47,275.69 149.55,276.54 150.64,277.37 151.72,278.20 152.80,279.03 153.89,279.84 154.97,280.65 156.05,281.44 157.14,282.23 158.22,283.01 159.31,283.79 160.39,284.55 161.47,285.31 162.56,286.06 163.64,286.80 164.72,287.54 165.81,288.27 166.89,288.99 167.98,289.70 169.06,290.41 170.14,291.11 171.23,291.80 172.31,292.48 173.39,293.16 174.48,293.83 175.56,294.49 176.65,295.15 177.73,295.80 178.81,296.45 179.90,297.08 180.98,297.71 182.06,298.34 183.15,298.96 184.23,299.57 185.32,300.17 186.40,300.77 187.48,301.37 188.57,301.95 189.65,302.53 190.73,303.11 191.82,303.68 192.90,304.24 193.98,304.80 195.07,305.35 196.15,305.89 197.24,306.44 198.32,306.97 199.40,307.50 200.49,308.02 201.57,308.54 202.65,309.05 203.74,309.56 204.82,310.06 205.91,310.56 206.99,311.05 208.07,311.54 209.16,312.02 210.24,312.50 211.32,312.97 212.41,313.43 213.49,313.89 214.58,314.35 215.66,314.80 216.74,315.25 217.83,315.70 218.91,316.15 219.99,316.59 221.08,317.03 222.16,317.46 223.25,317.89 224.33,318.31 225.41,318.73 226.50,319.15 227.58,319.56 228.66,319.96 229.75,320.36 230.83,320.76 231.91,321.15 233.00,321.54 234.08,321.93 235.17,322.31 236.25,322.69 237.33,323.06 238.42,323.43 239.50,323.79 240.58,324.16 241.67,324.51 242.75,324.87 243.84,325.22 244.92,325.56 246.00,325.91 247.09,326.24 248.17,326.58 249.25,326.91 250.34,327.24 251.42,327.56 252.51,327.88 253.59,328.20 254.67,328.52 255.76,328.83 256.84,329.13 257.92,329.44 259.01,329.74 260.09,330.03 261.18,330.33 262.26,330.62 263.34,330.91 264.43,331.19 265.51,331.47 266.59,331.75 267.68,332.02 268.76,332.30 269.84,332.56 270.93,332.83 272.01,333.09 273.10,333.35 274.18,333.61 275.26,333.86 276.35,334.11 277.43,334.36 278.51,334.61 279.60,334.85 280.68,335.09 281.77,335.33 282.85,335.56 283.93,335.79 285.02,336.02 286.10,336.25 287.18,336.47 288.27,336.69 289.35,336.91 290.44,337.13 291.52,337.34 292.60,337.55 293.69,337.76 294.77,337.97 295.85,338.17 296.94,338.37 298.02,338.57 299.11,338.77 300.19,338.96 301.27,339.15 302.36,339.34 303.44,339.53 304.52,339.70 305.61,339.88 306.69,340.05 307.77,340.22 308.86,340.38 309.94,340.55 311.03,340.71 312.11,340.87 313.19,341.03 314.28,341.19 315.36,341.34 316.44,341.49 317.53,341.65 318.61,341.79 319.70,341.94 320.78,342.08 321.86,342.23 322.95,342.37 324.03,342.50 325.11,342.64 326.20,342.78 327.28,342.91 328.37,343.04 329.45,343.17 330.53,343.30 331.62,343.42 332.70,343.54 333.78,343.67 334.87,343.79 335.95,343.90 337.04,344.02 338.12,344.14 339.20,344.25 340.29,344.36 341.37,344.47 342.45,344.58 343.54,344.68 344.62,344.79 345.70,344.89 346.79,344.99 347.87,345.09 348.96,345.19 350.04,345.29 351.12,345.38 352.21,345.48 353.29,345.57 354.37,345.66 355.46,345.75 356.54,345.84 357.63,345.92 358.71,346.01 359.79,346.09 360.88,346.17 361.96,346.25 363.04,346.33 364.13,346.41 365.21,346.49 366.30,346.56 367.38,346.64 368.46,346.71 369.55,346.78 370.63,346.85 371.71,346.92 372.80,346.99 373.88,347.05 374.96,347.12 376.05,347.18 377.13,347.24 378.22,347.30 379.30,347.36 380.38,347.42 381.47,347.48 382.55,347.53 383.63,347.59 384.72,347.64 385.80,347.69 386.89,347.75 387.97,347.80 389.05,347.84 390.14,347.89 391.22,347.94 392.30,347.99 393.39,348.03 394.47,348.07 395.56,348.12 396.64,348.16 397.72,348.20 398.81,348.24 399.89,348.28 400.97,348.31 402.06,348.35 403.14,348.38 404.23,348.42 405.31,348.45 406.39,348.48 407.48,348.52 408.56,348.55 409.64,348.58 410.73,348.60 411.81,348.63 412.89,348.66 413.98,348.68 415.06,348.71 416.15,348.73 417.23,348.76 418.31,348.78 419.40,348.80 420.48,348.82 421.56,348.84 422.65,348.86 423.73,348.88 424.82,348.89 425.90,348.91 426.98,348.92 428.07,348.94 429.15,348.95 430.23,348.97 431.32,348.98 432.40,348.99 433.49,349.00" fill="none" stroke="#00ff00" stroke-width="2.0" stroke-dasharray="8 8" stroke-dashoffset="0" />
<line x1="108.7" y1="315.8" x2="162.36" y2="255.86" stroke="#1a1a1a" stroke-width="0.9"/>
<path d="M167.70 249.90L164.23 260.22L163.03 255.12L157.83 254.48Z" fill="#000"/>
<line x1="467.5" y1="317.6" x2="523.08" y2="248.53" stroke="#1a1a1a" stroke-width="0.9"/>
<path d="M528.10 242.30L525.18 252.79L523.71 247.75L518.48 247.39Z" fill="#000"/>
<text transform="translate(133.5,245.2) scale(0.9,1)" font-size="14" font-family="Liberation Serif" font-style="italic" fill="#000">ω</text>
<text transform="translate(144.2,245.2) scale(0.83,1)" font-size="12.8" font-family="Liberation Sans" font-weight="bold" fill="#000">=</text>
<text x="153.6" y="245.2" font-size="13" font-family="Liberation Sans" font-weight="bold" fill="#000" textLength="77.6" lengthAdjust="spacingAndGlyphs">0.3, 0.4, 0.5, 0.6</text>
<text transform="translate(499.3,232.6) scale(0.9,1)" font-size="14" font-family="Liberation Serif" font-style="italic" fill="#000">ω</text>
<text transform="translate(509.4,232.6) scale(0.83,1)" font-size="12.8" font-family="Liberation Sans" font-weight="bold" fill="#000">=</text>
<text x="519.0" y="232.6" font-size="13" font-family="Liberation Sans" font-weight="bold" fill="#000" textLength="75.9" lengthAdjust="spacingAndGlyphs">0.3, 0.4, 0.5, 0.6</text>
<text transform="translate(10.9,210.3) rotate(-90) scale(1,0.78)" text-anchor="middle" font-size="16.5" font-family="Liberation Sans" font-style="italic" fill="#000">f</text>
<text transform="translate(10.9,192.0) rotate(-90) scale(1,0.78)" text-anchor="middle" font-size="16.5" font-family="Liberation Sans" font-style="italic" fill="#000">(</text>
<text transform="translate(10.9,183.8) rotate(-90) scale(1,0.78)" text-anchor="middle" font-size="16.5" font-family="Liberation Serif" font-style="italic" fill="#000">ζ</text>
<text transform="translate(10.9,172.5) rotate(-90) scale(1,0.78)" text-anchor="middle" font-size="16.5" font-family="Liberation Sans" font-style="italic" fill="#000">)</text>
<text transform="translate(381.0,202.9) rotate(-90) scale(1,0.78)" text-anchor="middle" font-size="16.5" font-family="Liberation Sans" font-style="italic" fill="#000">F</text>
<text transform="translate(381.0,181.3) rotate(-90) scale(1,0.78)" text-anchor="middle" font-size="16.5" font-family="Liberation Sans" font-style="italic" fill="#000">(</text>
<text transform="translate(381.0,171.6) rotate(-90) scale(1,0.78)" text-anchor="middle" font-size="16.5" font-family="Liberation Serif" font-style="italic" fill="#000">ζ</text>
<text transform="translate(381.0,160.05) rotate(-90) scale(1,0.78)" text-anchor="middle" font-size="16.5" font-family="Liberation Sans" font-style="italic" fill="#000">)</text>
<path d="M1.5 199.7L4.5 201.0M372.3 188.4L375.2 189.7" stroke="#222" stroke-width="1.4" fill="none"/>
<text transform="translate(188,395.5) scale(0.8,1)" text-anchor="middle" font-size="21" font-family="Liberation Serif" fill="#000">ζ</text>
<text transform="translate(560,395.5) scale(0.8,1)" text-anchor="middle" font-size="21" font-family="Liberation Serif" fill="#000">ζ</text>
<text x="8.8" y="13.2" font-size="17.5" font-family="Liberation Serif" font-weight="bold" fill="#000">(a)</text>
<text x="363.6" y="13.2" font-size="17.5" font-family="Liberation Serif" font-weight="bold" fill="#000">(b)</text>
</g>
</svg></body></html>
